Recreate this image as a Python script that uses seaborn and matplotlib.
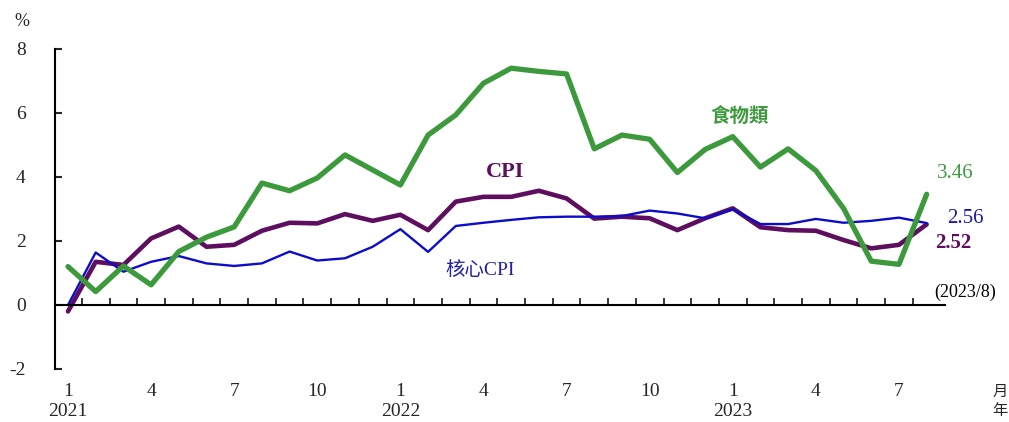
import numpy as np
import pandas as pd
import matplotlib
matplotlib.use('Agg')
import matplotlib.pyplot as plt
import seaborn as sns

# month index 0 = 2021/1 ... 31 = 2023/8
months = list(range(32))
food = [1.20, 0.42, 1.22, 0.63, 1.67, 2.12, 2.44, 3.81, 3.57, 3.97, 4.69, 4.22,
        3.75, 5.31, 5.94, 6.93, 7.40, 7.30, 7.22, 4.88, 5.31, 5.18, 4.14, 4.86,
        5.26, 4.31, 4.88, 4.20, 3.02, 1.37, 1.27, 3.46]
cpi = [-0.20, 1.35, 1.25, 2.08, 2.45, 1.82, 1.88, 2.32, 2.57, 2.55, 2.84, 2.63,
       2.82, 2.34, 3.23, 3.38, 3.38, 3.57, 3.33, 2.70, 2.76, 2.71, 2.34, 2.71,
       3.02, 2.43, 2.34, 2.32, 2.03, 1.77, 1.88, 2.52]
core = [0.00, 1.64, 1.04, 1.35, 1.53, 1.30, 1.22, 1.30, 1.67, 1.39, 1.46, 1.82,
        2.37, 1.66, 2.47, 2.57, 2.66, 2.74, 2.76, 2.76, 2.78, 2.95, 2.86, 2.71,
        2.99, 2.53, 2.53, 2.69, 2.57, 2.63, 2.73, 2.56]
tick_pos = [0, 3, 6, 9, 12, 15, 18, 21, 24, 27, 30]
tick_lab = ['1\n2021', '4', '7', '10', '1\n2022', '4', '7', '10', '1\n2023', '4', '7']
yticks = [-2, 0, 2, 4, 6, 8]

df = pd.DataFrame({'m': months, 'food': food, 'cpi': cpi, 'core': core})

sns.set_style('white')
plt.rcParams['font.family'] = ['Liberation Serif', 'Noto Sans CJK TC']

GREEN = '#3C9A3C'
PURPLE = '#5E0E5E'
BLUE = '#0C0CCC'

fig = plt.figure(figsize=(10.09, 4.22), dpi=100)
ax = fig.add_axes([0.0545, 0.1256, 0.882, 0.7583])

sns.lineplot(data=df, x='m', y='cpi', color=PURPLE, linewidth=3.3, ax=ax)
sns.lineplot(data=df, x='m', y='core', color=BLUE, linewidth=1.7, ax=ax)
sns.lineplot(data=df, x='m', y='food', color=GREEN, linewidth=3.8, ax=ax)

ax.set_xlim(-0.47, 31.66)
ax.set_ylim(-2, 8)
ax.set_xlabel('')
ax.set_ylabel('')

for s in ['top', 'right']:
    ax.spines[s].set_visible(False)
ax.spines['bottom'].set_position(('data', 0))
ax.spines['bottom'].set_linewidth(1.5)
ax.spines['left'].set_linewidth(1.5)
ax.spines['bottom'].set_color('black')
ax.spines['left'].set_color('black')

ax.set_yticks(yticks)
ax.set_yticklabels([str(v) for v in yticks], fontsize=14)
ax.tick_params(axis='y', direction='in', length=5, width=1.5, pad=21, left=True)

ax.set_xticks(tick_pos)
ax.set_xticklabels(tick_lab, fontsize=14, linespacing=1.25)
ax.set_xticks([m + 0.5 for m in months[:-1]], minor=True)
ax.tick_params(axis='x', which='major', length=0, pad=56)
ax.tick_params(axis='x', which='minor', direction='in', length=5, width=1.3, bottom=True)

# series labels
ax.text(24.26, 5.9, '食物類', color=GREEN, fontsize=14, fontweight='bold',
        ha='center', va='center')
ax.text(15.78, 4.16, 'CPI', color=PURPLE, fontsize=16, fontweight='bold',
        ha='center', va='center')
ax.text(14.87, 1.09, '核心CPI', color='#2020A8', fontsize=14,
        ha='center', va='center')

# end values
ax.text(31.37, 4.12, '3.46', color=GREEN, fontsize=15, ha='left', va='center', clip_on=False)
ax.text(31.73, 2.69, '2.56', color='#1818B0', fontsize=15, ha='left', va='center', clip_on=False)
ax.text(31.30, 1.94, '2.52', color=PURPLE, fontsize=15, fontweight='bold',
        ha='left', va='center', clip_on=False)
ax.text(31.26, 0.41, '(2023/8)', color='black', fontsize=13, ha='left', va='center', clip_on=False)

fig.text(22 / 1009, 1 - 22 / 422, '%', fontsize=13, ha='center', va='center')
fig.text(1000 / 1009, 1 - 392 / 422, '月', fontsize=11, ha='center', va='center')
fig.text(1000 / 1009, 1 - 411 / 422, '年', fontsize=11, ha='center', va='center')

fig.savefig('out.png', dpi=100)
